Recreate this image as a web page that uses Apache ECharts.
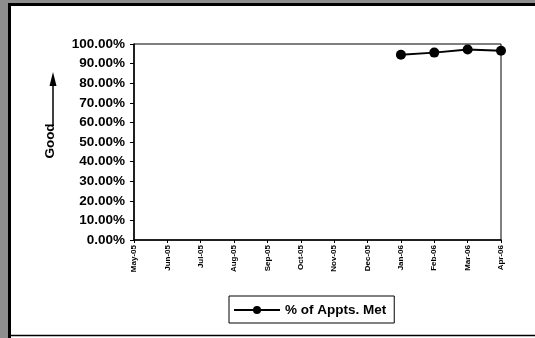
<!DOCTYPE html>
<html>
<head>
<meta charset="utf-8">
<script src="https://cdn.jsdelivr.net/npm/echarts@6/dist/echarts.min.js"></script>
<style>
  html, body { margin: 0; padding: 0; background: #fff; }
  #chart { width: 535px; height: 338px; }
</style>
</head>
<body>
<div id="chart"></div>
<script>
// months on the x axis
var months = ['May-05', 'Jun-05', 'Jul-05', 'Aug-05', 'Sep-05', 'Oct-05',
              'Nov-05', 'Dec-05', 'Jan-06', 'Feb-06', 'Mar-06', 'Apr-06'];
// % of appointments met (only last four months reported)
var apptsMet = [null, null, null, null, null, null, null, null, 94.5, 95.6, 97.2, 96.6];
var seriesName = '% of Appts. Met';

var chart = echarts.init(document.getElementById('chart'));

var option = {
  backgroundColor: '#fff',
  animation: false,
  textStyle: { fontFamily: 'Liberation Sans, Arial, sans-serif' },
  grid: {
    left: 134, right: 34, top: 44, bottom: 98,
    show: true, borderColor: '#000', borderWidth: 1, backgroundColor: 'transparent'
  },
  legend: {
    data: [seriesName],
    left: 229, top: 296,
    padding: [7, 8, 6, 4],
    itemWidth: 46, itemHeight: 10, itemGap: 4,
    borderColor: '#000', borderWidth: 1,
    textStyle: { color: '#000', fontSize: 13.5, fontWeight: 'bold', fontFamily: 'Liberation Sans, Arial' }
  },
  xAxis: {
    type: 'category',
    data: months,
    boundaryGap: false,
    axisLine: { lineStyle: { color: '#000', width: 1.5 } },
    axisTick: { show: true, length: 3, lineStyle: { color: '#000' } },
    axisLabel: {
      rotate: 90, interval: 0, color: '#000', fontSize: 8, fontWeight: 'bold', margin: 5
    },
    splitLine: { show: false }
  },
  yAxis: {
    type: 'value',
    min: 0, max: 100, interval: 10,
    axisLine: { show: true, lineStyle: { color: '#000', width: 1.5 } },
    axisTick: { show: true, length: 4, lineStyle: { color: '#000' } },
    axisLabel: {
      color: '#000', fontSize: 13.5, fontWeight: 'bold', margin: 9,
      formatter: function (v) { return v.toFixed(2) + '%'; }
    },
    splitLine: { show: false }
  },
  series: [{
    name: seriesName,
    type: 'line',
    data: apptsMet,
    symbol: 'circle',
    symbolSize: 10,
    itemStyle: { color: '#000' },
    lineStyle: { color: '#000', width: 2 }
  }],
  graphic: [
    // grey dithered frame strips
    { type: 'rect', shape: { x: 0, y: 0, width: 8, height: 338 }, style: { fill: '#8e8e8e' }, silent: true },
    { type: 'rect', shape: { x: 0, y: 0, width: 535, height: 3 }, style: { fill: '#8e8e8e' }, silent: true },
    // black chart-area border
    { type: 'line', shape: { x1: 9.5, y1: 3, x2: 9.5, y2: 338 }, style: { stroke: '#000', lineWidth: 3 }, silent: true },
    { type: 'line', shape: { x1: 8, y1: 4.5, x2: 535, y2: 4.5 }, style: { stroke: '#000', lineWidth: 3 }, silent: true },
    { type: 'line', shape: { x1: 8, y1: 335.5, x2: 535, y2: 335.5 }, style: { stroke: '#000', lineWidth: 1.5 }, silent: true },
    // "Good" arrow
    { type: 'line', shape: { x1: 53, y1: 126, x2: 53, y2: 84 }, style: { stroke: '#000', lineWidth: 1.5 }, silent: true },
    { type: 'polygon', shape: { points: [[53, 72], [49.5, 86], [56.5, 86]] }, style: { fill: '#000' }, silent: true },
    {
      type: 'text', x: 50, y: 141, rotation: Math.PI / 2,
      style: {
        text: 'Good', fill: '#000', fontSize: 13.5, fontWeight: 'bold',
        fontFamily: 'Liberation Sans, Arial', align: 'center', verticalAlign: 'middle'
      },
      silent: true
    }
  ]
};

chart.setOption(option);
</script>
</body>
</html>
